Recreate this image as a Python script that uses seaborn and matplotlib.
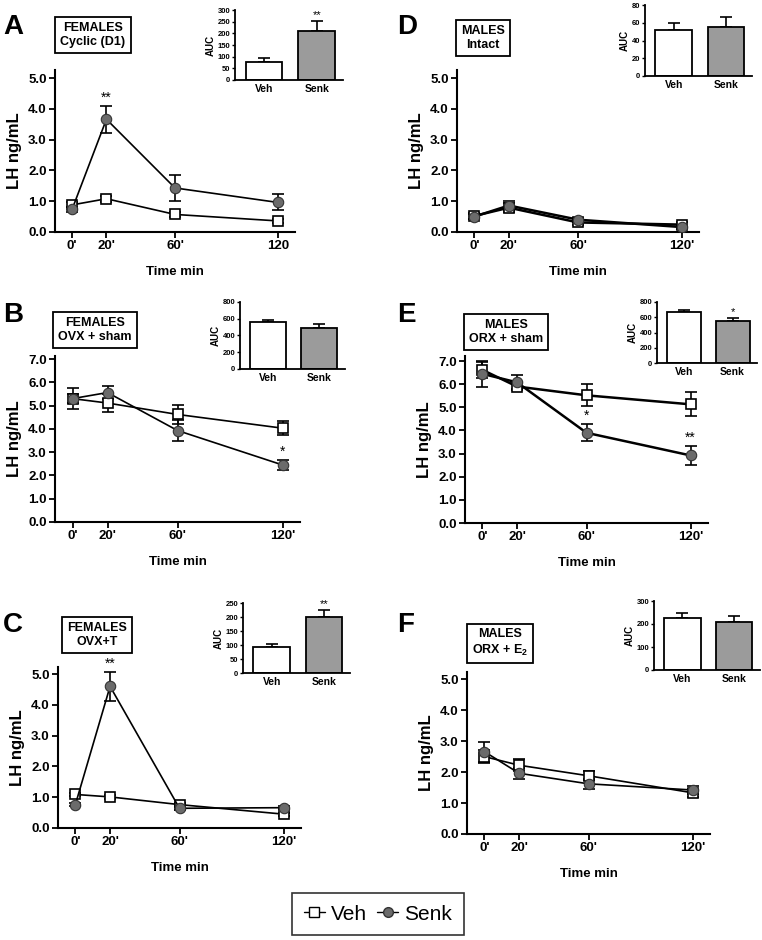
import matplotlib
matplotlib.use("Agg")
import matplotlib.pyplot as plt
from matplotlib.lines import Line2D
import seaborn as sns
import pandas as pd

sns.set_style("ticks")
plt.rcParams["font.family"] = ["Liberation Sans", "DejaVu Sans"]
plt.rcParams["font.weight"] = "bold"
plt.rcParams["mathtext.fontset"] = "custom"
plt.rcParams["mathtext.rm"] = "Liberation Sans:bold"
plt.rcParams["mathtext.bf"] = "Liberation Sans:bold"
for k in ["text.color", "axes.labelcolor", "xtick.color", "ytick.color",
          "axes.edgecolor"]:
    plt.rcParams[k] = "black"

W, H = 762, 940

times = [0, 20, 60, 120]
time_labels = ["0'", "20'", "60'", "120'"]
groups = ["Veh", "Senk"]

# LH ng/mL, mean and SEM per time point
a_veh = [0.88, 1.08, 0.57, 0.36]
a_veh_err = [0.08, 0.10, 0.07, 0.06]
a_senk = [0.74, 3.66, 1.43, 0.96]
a_senk_err = [0.08, 0.43, 0.42, 0.26]

b_veh = [5.30, 5.11, 4.62, 4.03]
b_veh_err = [0.45, 0.38, 0.40, 0.30]
b_senk = [5.30, 5.56, 3.93, 2.45]
b_senk_err = [0.20, 0.27, 0.43, 0.20]

c_veh = [1.09, 1.01, 0.76, 0.45]
c_veh_err = [0.05, 0.06, 0.05, 0.05]
c_senk = [0.76, 4.60, 0.64, 0.66]
c_senk_err = [0.05, 0.46, 0.05, 0.05]

d_veh = [0.52, 0.79, 0.31, 0.24]
d_veh_err = [0.10, 0.15, 0.08, 0.10]
d_senk = [0.50, 0.86, 0.40, 0.16]
d_senk_err = [0.08, 0.15, 0.06, 0.05]

e_veh = [6.62, 5.90, 5.52, 5.13]
e_veh_err = [0.35, 0.15, 0.48, 0.52]
e_senk = [6.45, 6.08, 3.90, 2.92]
e_senk_err = [0.55, 0.30, 0.37, 0.41]

f_veh = [2.50, 2.22, 1.88, 1.33]
f_veh_err = [0.20, 0.20, 0.15, 0.12]
f_senk = [2.66, 1.96, 1.62, 1.42]
f_senk_err = [0.32, 0.17, 0.17, 0.12]

# AUC insets: [Veh, Senk]
a_auc = [78, 212]
a_auc_err = [15, 42]
b_auc = [563, 487]
b_auc_err = [25, 45]
c_auc = [94, 200]
c_auc_err = [10, 26]
d_auc = [52, 55]
d_auc_err = [8, 11]
e_auc = [665, 550]
e_auc_err = [35, 42]
f_auc = [225, 208]
f_auc_err = [25, 28]

# significance marks on Senk: main plot (time index -> mark), inset
a_stars = {1: "**"}
b_stars = {3: "*"}
c_stars = {1: "**"}
d_stars = {}
e_stars = {2: "*", 3: "**"}
f_stars = {}
a_auc_star = "**"
b_auc_star = ""
c_auc_star = "**"
d_auc_star = ""
e_auc_star = "*"
f_auc_star = ""

GREY = "#6b6b6b"
BARGREY = "#9b9b9b"


def rect(left, right, top, bottom):
    return [left / W, 1 - bottom / H, (right - left) / W, (bottom - top) / H]


def style(ax, lw=1.5):
    sns.despine(ax=ax)
    for s in ["left", "bottom"]:
        ax.spines[s].set_linewidth(lw)


def main_panel(fig, box, veh, veh_err, senk, senk_err, ytop, ymax, stars,
               xlabels=time_labels, lw=1.2):
    ax = fig.add_axes(box)
    df = pd.DataFrame({"t": times * 2, "lh": veh + senk,
                       "g": ["Veh"] * 4 + ["Senk"] * 4})
    ax.errorbar(times, veh, yerr=veh_err, fmt="none", ecolor="black",
                elinewidth=1.2, capsize=4, capthick=1.2, zorder=2)
    ax.errorbar(times, senk, yerr=senk_err, fmt="none", ecolor="black",
                elinewidth=1.2, capsize=4, capthick=1.2, zorder=2)
    sns.lineplot(data=df, x="t", y="lh", hue="g", style="g",
                 hue_order=groups, style_order=groups,
                 palette={"Veh": "black", "Senk": "black"},
                 markers={"Veh": "s", "Senk": "o"},
                 dashes={"Veh": "", "Senk": ""},
                 linewidth=lw, legend=False, ax=ax, zorder=3)
    lines = ax.get_lines()[-2:]
    lines[0].set(marker="s", markersize=7, markerfacecolor="white",
                 markeredgecolor="black", markeredgewidth=1.2)
    lines[1].set(marker="o", markersize=7.5, markerfacecolor=GREY,
                 markeredgecolor="#333333", markeredgewidth=0.8)
    for i, s in stars.items():
        ax.text(times[i], senk[i] + senk_err[i] + ymax * 0.01, s,
                ha="center", va="bottom", fontsize=10, fontweight="normal")
    ax.set_xlim(-10, 130)
    ax.set_ylim(0, ytop)
    ax.set_xticks(times)
    ax.set_xticklabels(xlabels)
    ax.set_yticks(range(0, ymax + 1))
    ax.set_yticklabels([f"{v:.1f}" for v in range(0, ymax + 1)])
    ax.tick_params(labelsize=9.5, width=1.3, length=4, pad=2)
    ax.set_xlabel("Time min", fontsize=9.5, fontweight="bold", labelpad=10)
    ax.set_ylabel("LH ng/mL", fontsize=12, fontweight="bold", labelpad=4)
    style(ax)
    return ax


def auc_panel(fig, box, vals, errs, ymax, step, star):
    ax = fig.add_axes(box)
    df = pd.DataFrame({"g": groups, "auc": vals})
    sns.barplot(data=df, x="g", y="auc", hue="g", palette=["white", BARGREY],
                edgecolor="black", linewidth=1.3, width=0.7, legend=False,
                ax=ax, zorder=2)
    ax.errorbar([0, 1], vals, yerr=[[0, 0], errs], fmt="none", ecolor="black",
                elinewidth=1.2, capsize=4, capthick=1.2, zorder=1)
    if star:
        ax.text(1, vals[1] + errs[1] + ymax * 0.01, star, ha="center",
                va="bottom", fontsize=8, fontweight="normal")
    ax.set_xlim(-0.55, 1.5)
    ax.set_ylim(0, ymax)
    ax.set_yticks(range(0, ymax + 1, step))
    ax.set_xlabel("")
    ax.set_ylabel("AUC", fontsize=7, fontweight="bold", labelpad=1)
    ax.tick_params(axis="y", labelsize=5.5, width=1, length=2.5, pad=1)
    ax.tick_params(axis="x", labelsize=7.5, length=0, pad=3)
    style(ax, 1.3)
    return ax


fig = plt.figure(figsize=(W / 100, H / 100), dpi=100)

main_panel(fig, rect(55, 295, 70, 232), a_veh, a_veh_err, a_senk,
           a_senk_err, 5.26, 5, a_stars,
           xlabels=["0'", "20'", "60'", "120"])
main_panel(fig, rect(55, 300, 356, 522), b_veh, b_veh_err, b_senk,
           b_senk_err, 7.13, 7, b_stars)
main_panel(fig, rect(58, 301, 667, 828), c_veh, c_veh_err, c_senk,
           c_senk_err, 5.23, 5, c_stars)
main_panel(fig, rect(457, 699, 70, 232), d_veh, d_veh_err, d_senk,
           d_senk_err, 5.26, 5, d_stars, lw=1.8)
main_panel(fig, rect(465, 708, 356, 523), e_veh, e_veh_err, e_senk,
           e_senk_err, 7.22, 7, e_stars, lw=1.8)
main_panel(fig, rect(467, 710, 672, 834), f_veh, f_veh_err, f_senk,
           f_senk_err, 5.23, 5, f_stars)

auc_panel(fig, rect(235, 343, 10, 80), a_auc, a_auc_err, 300, 50, a_auc_star)
auc_panel(fig, rect(240, 345, 302, 369), b_auc, b_auc_err, 800, 200, b_auc_star)
auc_panel(fig, rect(243, 350, 603, 673), c_auc, c_auc_err, 250, 50, c_auc_star)
auc_panel(fig, rect(645, 752, 5, 76), d_auc, d_auc_err, 80, 20, d_auc_star)
auc_panel(fig, rect(657, 757, 302, 363), e_auc, e_auc_err, 800, 200, e_auc_star)
auc_panel(fig, rect(654, 760, 601, 670), f_auc, f_auc_err, 300, 100, f_auc_star)

# panel letters and group boxes
letters = ["A", "B", "C", "D", "E", "F"]
letter_pos = [(3, 27), (3, 315), (3, 625), (397, 27), (397, 315), (397, 625)]
for s, (x, y) in zip(letters, letter_pos):
    fig.text(x / W, 1 - y / H, s, fontsize=20, fontweight="bold",
             ha="left", va="center")

box_texts = ["FEMALES\nCyclic (D1)", "FEMALES\nOVX + sham", "FEMALES\nOVX+T",
             "MALES\nIntact", "MALES\nORX + sham", "MALES\nORX + E$_2$"]
box_pos = [(93, 35), (95, 330), (97, 635), (483, 38), (506, 332), (500, 643)]
for s, (x, y) in zip(box_texts, box_pos):
    fig.text(x / W, 1 - y / H, s, fontsize=9, fontweight="bold",
             ha="center", va="center", linespacing=1.25,
             bbox=dict(boxstyle="square,pad=0.4", facecolor="white",
                       edgecolor="black", linewidth=1.3))

handles = [
    Line2D([], [], color="black", lw=1, marker="s", markersize=6.5,
           markerfacecolor="white", markeredgecolor="black"),
    Line2D([], [], color="black", lw=1, marker="o", markersize=7,
           markerfacecolor=GREY, markeredgecolor="#333333"),
]
leg = fig.legend(handles, groups, loc="center", ncol=2,
                 bbox_to_anchor=(378 / W, 1 - 914 / H),
                 prop={"weight": "normal", "size": 15},
                 frameon=True, fancybox=False, edgecolor="black",
                 handlelength=1.0, handletextpad=0.3, columnspacing=0.5,
                 borderpad=0.55)
leg.get_frame().set_linewidth(1.2)

fig.savefig("out.png", dpi=100)
